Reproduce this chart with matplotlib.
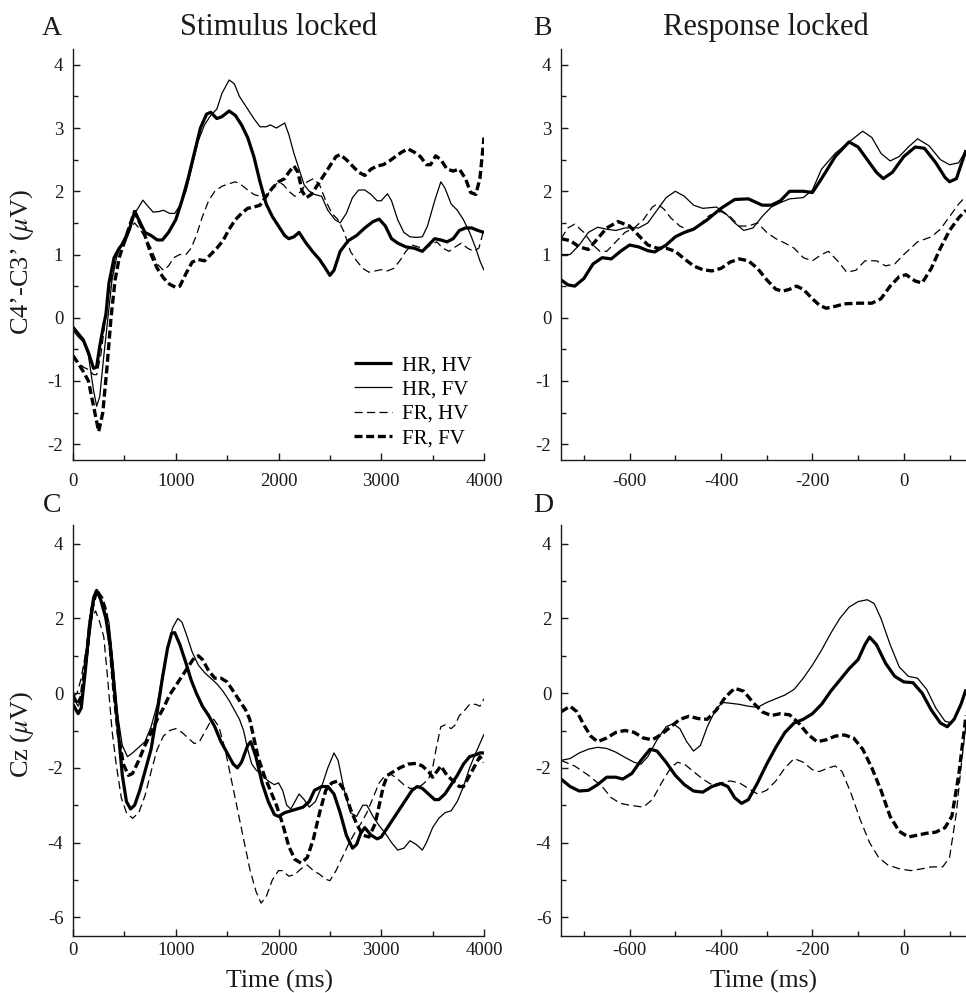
import matplotlib
matplotlib.use("Agg")
import matplotlib.pyplot as plt
from matplotlib.ticker import MultipleLocator

plt.rcParams['font.family'] = ['Liberation Serif', 'DejaVu Serif']
plt.rcParams['mathtext.fontset'] = 'stix'
plt.rcParams['axes.unicode_minus'] = False

# ---- Panel A: stimulus locked, C4'-C3' ----
a_hrhv_t = [0, 50, 100, 150, 200, 230, 260, 300, 320, 350, 400, 450, 500, 550, 600, 640, 700, 760, 820, 870,
            930, 1000, 1060, 1120, 1180, 1240, 1300, 1340, 1400, 1450, 1520, 1580, 1640, 1700, 1760, 1820, 1880,
            1940, 2000, 2060, 2100, 2150, 2200, 2260, 2330, 2400, 2450, 2500, 2540, 2600, 2680, 2760, 2840, 2920,
            2980, 3040, 3100, 3160, 3240, 3320, 3400, 3460, 3520, 3580, 3640, 3700, 3760, 3820, 3880, 3940, 4000]
a_hrhv_v = [-0.15, -0.25, -0.35, -0.55, -0.8, -0.78, -0.45, -0.1, 0.05, 0.55, 0.95, 1.1, 1.2, 1.4, 1.68, 1.55,
            1.35, 1.3, 1.23, 1.23, 1.35, 1.55, 1.85, 2.2, 2.6, 3.0, 3.22, 3.25, 3.15, 3.18, 3.27, 3.2, 3.05, 2.85,
            2.55, 2.15, 1.8, 1.6, 1.45, 1.3, 1.25, 1.28, 1.35, 1.2, 1.05, 0.92, 0.8, 0.67, 0.75, 1.05, 1.22, 1.3,
            1.42, 1.52, 1.56, 1.45, 1.25, 1.18, 1.12, 1.1, 1.05, 1.15, 1.25, 1.23, 1.2, 1.25, 1.38, 1.42, 1.42,
            1.38, 1.35]

a_hrfv_t = [0, 50, 100, 150, 200, 230, 260, 300, 340, 380, 430, 480, 540, 600, 640, 680, 720, 780, 840, 880,
            940, 990, 1050, 1100, 1160, 1220, 1280, 1340, 1400, 1450, 1520, 1570, 1620, 1700, 1760, 1820, 1880,
            1920, 1980, 2060, 2100, 2150, 2200, 2250, 2300, 2350, 2420, 2480, 2550, 2600, 2660, 2720, 2780, 2840,
            2900, 2960, 3000, 3060, 3100, 3160, 3220, 3280, 3340, 3400, 3450, 3520, 3580, 3620, 3680, 3740, 3800,
            3860, 3920, 3960, 4000]
a_hrfv_v = [-0.2, -0.3, -0.38, -0.6, -1.15, -1.4, -1.25, -0.6, 0.0, 0.6, 1.0, 1.2, 1.4, 1.65, 1.75, 1.86, 1.78,
            1.67, 1.68, 1.7, 1.65, 1.65, 1.8, 2.0, 2.4, 2.8, 3.05, 3.2, 3.3, 3.55, 3.76, 3.7, 3.5, 3.3, 3.15, 3.02,
            3.02, 3.05, 3.0, 3.08, 2.9, 2.6, 2.35, 2.1, 2.0, 1.95, 1.92, 1.7, 1.55, 1.5, 1.65, 1.9, 2.02, 2.02, 1.95,
            1.85, 1.85, 1.96, 1.85, 1.55, 1.35, 1.28, 1.27, 1.28, 1.45, 1.85, 2.15, 2.05, 1.8, 1.7, 1.55, 1.35, 1.1,
            0.9, 0.75]

a_frhv_t = [0, 50, 100, 150, 200, 230, 270, 310, 350, 400, 450, 500, 560, 600, 650, 700, 760, 820, 880, 930,
            980, 1040, 1100, 1150, 1200, 1260, 1320, 1380, 1450, 1520, 1580, 1640, 1700, 1760, 1820, 1880, 1940,
            2000, 2050, 2100, 2160, 2220, 2280, 2340, 2400, 2460, 2520, 2580, 2640, 2700, 2760, 2820, 2880, 2940,
            3000, 3060, 3120, 3180, 3240, 3300, 3360, 3420, 3480, 3540, 3600, 3660, 3720, 3780, 3840, 3900, 3950,
            4000]
a_frhv_v = [-0.6, -0.7, -0.78, -0.82, -0.9, -0.9, -0.6, -0.1, 0.4, 0.85, 1.1, 1.25, 1.42, 1.5, 1.4, 1.28, 1.1,
            0.85, 0.75, 0.82, 0.95, 1.0, 1.0, 1.1, 1.3, 1.6, 1.85, 2.0, 2.08, 2.12, 2.15, 2.1, 2.02, 1.95, 1.92,
            1.92, 2.05, 2.15, 2.1, 2.0, 1.92, 2.0, 2.15, 2.2, 2.1, 1.85, 1.65, 1.55, 1.35, 1.05, 0.9, 0.78, 0.72,
            0.74, 0.76, 0.74, 0.78, 0.9, 1.05, 1.15, 1.12, 1.08, 1.15, 1.2, 1.1, 1.05, 1.12, 1.18, 1.1, 1.05, 1.1,
            1.4]

a_frfv_t = [0, 50, 100, 150, 200, 250, 290, 330, 370, 410, 450, 500, 550, 600, 650, 700, 760, 820, 880, 940,
            1000, 1040, 1100, 1160, 1220, 1280, 1340, 1400, 1460, 1520, 1580, 1640, 1700, 1760, 1820, 1880, 1940,
            2000, 2060, 2100, 2150, 2190, 2230, 2270, 2320, 2380, 2440, 2500, 2560, 2600, 2660, 2720, 2780, 2840,
            2900, 2960, 3020, 3080, 3140, 3200, 3260, 3320, 3380, 3440, 3480, 3530, 3580, 3640, 3700, 3760, 3820,
            3870, 3920, 3960, 4000]
a_frfv_v = [-0.6, -0.72, -0.85, -1.0, -1.4, -1.8, -1.5, -0.8, 0.0, 0.6, 0.95, 1.2, 1.45, 1.68, 1.5, 1.3, 1.0,
            0.78, 0.63, 0.53, 0.48, 0.5, 0.7, 0.88, 0.92, 0.9, 1.0, 1.1, 1.22, 1.4, 1.55, 1.65, 1.73, 1.75, 1.78,
            1.92, 2.05, 2.15, 2.2, 2.3, 2.4, 2.3, 2.0, 1.9, 1.95, 2.1, 2.25, 2.4, 2.55, 2.58, 2.5, 2.4, 2.3, 2.25,
            2.35, 2.4, 2.42, 2.48, 2.55, 2.62, 2.67, 2.62, 2.55, 2.42, 2.42, 2.56, 2.5, 2.35, 2.32, 2.35, 2.2, 1.98,
            1.95, 2.2, 2.85]

# ---- Panel B: response locked, C4'-C3' ----
b_hrhv_t = [-750, -735, -720, -700, -680, -660, -640, -620, -600, -580, -560, -545, -520, -500, -480, -460, -430,
            -400, -370, -340, -310, -290, -270, -250, -220, -200, -180, -150, -120, -100, -80, -60, -45, -25, 0,
            25, 45, 70, 90, 100, 115, 136]
b_hrhv_v = [0.6, 0.52, 0.5, 0.62, 0.85, 0.95, 0.93, 1.05, 1.15, 1.12, 1.06, 1.04, 1.15, 1.28, 1.35, 1.4, 1.55,
            1.73, 1.87, 1.88, 1.78, 1.78, 1.85, 2.0, 2.0, 1.98, 2.2, 2.55, 2.78, 2.7, 2.5, 2.3, 2.2, 2.3, 2.55, 2.7,
            2.68, 2.45, 2.22, 2.15, 2.2, 2.65]

b_hrfv_t = [-750, -730, -710, -690, -670, -650, -630, -610, -580, -560, -540, -520, -500, -480, -460, -440, -410,
            -390, -370, -350, -330, -310, -290, -270, -250, -220, -200, -180, -150, -120, -90, -70, -50, -30, -10,
            10, 30, 55, 80, 100, 120, 136]
b_hrfv_v = [1.0, 1.0, 1.15, 1.35, 1.43, 1.4, 1.38, 1.42, 1.42, 1.5, 1.7, 1.9, 2.0, 1.92, 1.78, 1.73, 1.75, 1.65,
            1.5, 1.38, 1.42, 1.6, 1.75, 1.82, 1.88, 1.9, 2.02, 2.35, 2.6, 2.78, 2.95, 2.85, 2.6, 2.48, 2.55, 2.7,
            2.83, 2.72, 2.5, 2.42, 2.45, 2.65]

b_frhv_t = [-750, -735, -720, -700, -680, -665, -650, -630, -610, -590, -570, -550, -540, -525, -510, -490, -470,
            -450, -425, -400, -380, -360, -340, -320, -300, -280, -260, -240, -220, -200, -180, -165, -145, -125,
            -105, -85, -60, -40, -20, 0, 30, 60, 80, 100, 120, 136]
b_frhv_v = [1.25, 1.42, 1.48, 1.35, 1.15, 1.05, 1.05, 1.2, 1.35, 1.42, 1.55, 1.75, 1.8, 1.72, 1.58, 1.45, 1.38,
            1.45, 1.62, 1.68, 1.6, 1.45, 1.45, 1.5, 1.35, 1.25, 1.18, 1.1, 0.95, 0.9, 1.0, 1.05, 0.9, 0.72, 0.75,
            0.9, 0.9, 0.82, 0.85, 1.0, 1.2, 1.28, 1.4, 1.6, 1.8, 1.92]

b_frfv_t = [-750, -730, -710, -690, -670, -650, -625, -600, -580, -560, -540, -520, -500, -480, -460, -440, -420,
            -400, -380, -360, -340, -320, -300, -280, -265, -250, -235, -220, -200, -185, -170, -150, -130, -100,
            -70, -50, -30, -10, 5, 25, 40, 60, 80, 100, 120, 136]
b_frfv_v = [1.25, 1.22, 1.12, 1.08, 1.25, 1.42, 1.52, 1.45, 1.3, 1.15, 1.1, 1.1, 1.05, 0.93, 0.82, 0.76, 0.74,
            0.78, 0.88, 0.93, 0.9, 0.78, 0.6, 0.45, 0.42, 0.45, 0.5, 0.45, 0.3, 0.2, 0.15, 0.18, 0.22, 0.23, 0.23,
            0.3, 0.5, 0.65, 0.68, 0.58, 0.55, 0.78, 1.1, 1.38, 1.58, 1.7]

# ---- Panel C: stimulus locked, Cz ----
c_hrhv_t = [0, 50, 80, 120, 160, 200, 230, 270, 320, 360, 400, 440, 480, 520, 560, 600, 650, 700, 760, 820, 870,
            920, 960, 990, 1040, 1100, 1150, 1200, 1260, 1320, 1380, 1440, 1500, 1560, 1600, 1640, 1700, 1730,
            1780, 1840, 1900, 1960, 2000, 2060, 2120, 2180, 2240, 2300, 2350, 2420, 2480, 2540, 2600, 2660, 2720,
            2760, 2800, 2840, 2900, 2960, 3000, 3060, 3120, 3180, 3240, 3300, 3350, 3400, 3460, 3520, 3560, 3620,
            3680, 3740, 3800, 3860, 3920, 3960, 4000]
c_hrhv_v = [-0.3, -0.55, -0.4, 0.6, 1.8, 2.55, 2.75, 2.5, 2.0, 1.3, 0.2, -1.0, -2.2, -2.9, -3.1, -3.0, -2.6,
            -2.1, -1.5, -0.5, 0.4, 1.2, 1.6, 1.62, 1.3, 0.8, 0.35, 0.0, -0.35, -0.6, -0.9, -1.3, -1.6, -1.9, -2.0,
            -1.85, -1.4, -1.3, -1.7, -2.4, -2.9, -3.25, -3.3, -3.2, -3.15, -3.1, -3.05, -2.9, -2.6, -2.5, -2.5,
            -2.7, -3.2, -3.8, -4.15, -4.05, -3.75, -3.6, -3.8, -3.9, -3.85, -3.6, -3.35, -3.1, -2.85, -2.6, -2.5,
            -2.55, -2.7, -2.85, -2.85, -2.7, -2.45, -2.2, -1.9, -1.7, -1.65, -1.6, -1.6]

c_hrfv_t = [0, 50, 80, 120, 170, 220, 260, 310, 350, 390, 430, 480, 530, 580, 640, 700, 760, 820, 870, 920, 970,
            1020, 1060, 1100, 1160, 1220, 1280, 1340, 1400, 1460, 1520, 1580, 1620, 1660, 1700, 1740, 1780, 1840,
            1900, 1960, 2000, 2040, 2080, 2120, 2160, 2200, 2250, 2300, 2360, 2420, 2480, 2540, 2580, 2640, 2700,
            2760, 2820, 2860, 2920, 2980, 3040, 3100, 3160, 3220, 3280, 3340, 3400, 3440, 3500, 3560, 3620, 3680,
            3740, 3800, 3860, 3920, 3960, 4000]
c_hrfv_v = [-0.1, -0.35, -0.2, 0.5, 1.7, 2.75, 2.6, 2.2, 1.9, 0.8, -0.5, -1.4, -1.7, -1.6, -1.45, -1.3, -0.9,
            -0.3, 0.5, 1.2, 1.75, 2.0, 1.9, 1.6, 1.1, 0.75, 0.55, 0.4, 0.25, 0.05, -0.2, -0.5, -0.7, -1.0, -1.5,
            -1.9, -2.05, -2.2, -2.35, -2.45, -2.4, -2.6, -3.0, -3.1, -2.9, -2.7, -2.85, -3.05, -2.9, -2.5, -2.0,
            -1.6, -1.8, -2.6, -3.2, -3.3, -3.0, -3.0, -3.3, -3.55, -3.75, -4.0, -4.2, -4.15, -3.95, -4.05, -4.2,
            -4.0, -3.6, -3.35, -3.2, -3.15, -2.9, -2.5, -2.0, -1.6, -1.35, -1.1]

c_frhv_t = [0, 40, 80, 130, 180, 220, 260, 300, 340, 380, 420, 470, 520, 580, 640, 700, 760, 820, 880, 940, 1000,
            1060, 1120, 1180, 1230, 1280, 1330, 1370, 1420, 1480, 1540, 1600, 1660, 1720, 1780, 1830, 1880, 1940,
            2000, 2040, 2100, 2160, 2220, 2280, 2340, 2400, 2460, 2500, 2560, 2620, 2680, 2740, 2800, 2860, 2920,
            2980, 3040, 3100, 3160, 3220, 3280, 3340, 3400, 3460, 3500, 3540, 3580, 3620, 3680, 3720, 3760, 3800,
            3860, 3920, 3960, 4000]
c_frhv_v = [-0.1, 0.0, 0.4, 1.2, 2.0, 2.2, 1.9, 1.5, 0.3, -1.0, -1.9, -2.8, -3.2, -3.35, -3.2, -2.75, -2.1, -1.5,
            -1.15, -1.0, -0.95, -1.05, -1.2, -1.35, -1.3, -1.05, -0.8, -0.7, -0.9, -1.5, -2.3, -3.1, -3.9, -4.7,
            -5.3, -5.62, -5.45, -5.0, -4.75, -4.75, -4.9, -4.85, -4.7, -4.6, -4.75, -4.85, -4.98, -5.02, -4.75,
            -4.4, -4.05, -3.75, -3.5, -3.2, -2.8, -2.4, -2.2, -2.18, -2.3, -2.45, -2.55, -2.55, -2.45, -2.3, -2.0,
            -1.4, -0.9, -0.85, -0.95, -0.85, -0.6, -0.5, -0.3, -0.3, -0.35, -0.15]

c_frfv_t = [0, 40, 80, 130, 180, 230, 280, 320, 360, 400, 440, 490, 540, 580, 640, 700, 760, 820, 880, 940, 1000,
            1060, 1120, 1180, 1220, 1260, 1320, 1380, 1440, 1500, 1560, 1620, 1680, 1720, 1760, 1800, 1860, 1920,
            1980, 2040, 2100, 2160, 2220, 2280, 2340, 2400, 2460, 2520, 2580, 2640, 2700, 2760, 2820, 2880, 2940,
            2980, 3020, 3060, 3120, 3180, 3260, 3340, 3400, 3460, 3500, 3540, 3580, 3640, 3700, 3760, 3800, 3860,
            3920, 3960, 4000]
c_frfv_v = [-0.05, -0.3, -0.1, 1.0, 2.2, 2.75, 2.55, 2.2, 1.3, 0.0, -1.1, -1.9, -2.2, -2.15, -1.8, -1.4, -1.05,
            -0.7, -0.4, -0.05, 0.2, 0.45, 0.7, 0.95, 1.0, 0.9, 0.6, 0.4, 0.4, 0.3, 0.05, -0.2, -0.45, -0.7, -1.2,
            -1.7, -2.2, -2.6, -3.0, -3.5, -4.1, -4.45, -4.55, -4.4, -3.9, -3.2, -2.6, -2.4, -2.35, -2.6, -3.1,
            -3.5, -3.8, -3.85, -3.5, -3.0, -2.5, -2.2, -2.1, -2.0, -1.9, -1.88, -1.95, -2.1, -2.25, -2.1, -1.95,
            -2.2, -2.35, -2.5, -2.5, -2.2, -1.9, -1.7, -1.85]

# ---- Panel D: response locked, Cz ----
d_hrhv_t = [-750, -730, -710, -690, -670, -650, -630, -615, -595, -575, -555, -540, -520, -500, -480, -460, -440,
            -420, -400, -385, -370, -355, -340, -320, -300, -280, -260, -240, -220, -200, -180, -160, -140, -120,
            -100, -85, -75, -60, -40, -20, 0, 20, 40, 60, 80, 95, 110, 125, 136]
d_hrhv_v = [-2.3, -2.5, -2.62, -2.6, -2.45, -2.25, -2.25, -2.3, -2.15, -1.8, -1.5, -1.55, -1.85, -2.2, -2.45,
            -2.62, -2.65, -2.5, -2.42, -2.5, -2.8, -2.95, -2.85, -2.4, -1.9, -1.45, -1.05, -0.8, -0.7, -0.55, -0.3,
            0.05, 0.35, 0.65, 0.9, 1.3, 1.5, 1.3, 0.8, 0.45, 0.3, 0.28, 0.0, -0.45, -0.8, -0.9, -0.7, -0.3, 0.1]

d_hrfv_t = [-750, -730, -710, -690, -670, -650, -630, -610, -590, -575, -560, -540, -520, -505, -490, -475, -460,
            -445, -430, -410, -395, -380, -360, -340, -320, -300, -280, -260, -240, -220, -200, -180, -160, -140,
            -120, -100, -80, -65, -50, -30, -10, 10, 30, 50, 70, 90, 105, 120, 136]
d_hrfv_v = [-1.8, -1.75, -1.6, -1.5, -1.45, -1.48, -1.58, -1.72, -1.85, -1.9, -1.7, -1.25, -0.9, -0.82, -0.95,
            -1.3, -1.55, -1.4, -0.9, -0.4, -0.25, -0.27, -0.3, -0.35, -0.38, -0.25, -0.15, -0.05, 0.1, 0.4, 0.75,
            1.15, 1.6, 2.0, 2.3, 2.45, 2.5, 2.4, 2.0, 1.3, 0.7, 0.45, 0.4, 0.1, -0.4, -0.75, -0.8, -0.45, 0.05]

d_frhv_t = [-750, -720, -690, -660, -640, -620, -600, -570, -550, -530, -510, -495, -480, -460, -440, -420, -400,
            -380, -360, -340, -320, -300, -280, -260, -240, -220, -200, -185, -165, -150, -135, -115, -95, -75, -55,
            -35, -10, 15, 40, 60, 85, 100, 115, 125, 136]
d_frhv_v = [-1.8, -1.95, -2.2, -2.5, -2.8, -2.95, -3.0, -3.05, -2.85, -2.4, -2.0, -1.85, -1.9, -2.1, -2.3, -2.45,
            -2.4, -2.35, -2.4, -2.55, -2.7, -2.6, -2.35, -2.0, -1.75, -1.85, -2.05, -2.1, -2.0, -1.95, -2.1, -2.7,
            -3.4, -4.0, -4.4, -4.6, -4.7, -4.75, -4.7, -4.65, -4.65, -4.4, -3.2, -2.0, -0.8]

d_frfv_t = [-750, -730, -715, -700, -685, -670, -650, -630, -610, -590, -570, -550, -530, -510, -490, -470, -450,
            -430, -410, -390, -370, -350, -330, -310, -290, -270, -250, -230, -210, -190, -170, -150, -130, -110,
            -90, -70, -50, -30, -10, 10, 30, 50, 70, 90, 105, 120, 136]
d_frfv_v = [-0.5, -0.35, -0.5, -0.85, -1.15, -1.3, -1.2, -1.05, -1.0, -1.05, -1.2, -1.25, -1.1, -0.9, -0.7,
            -0.62, -0.68, -0.7, -0.45, -0.1, 0.13, 0.05, -0.25, -0.5, -0.6, -0.55, -0.58, -0.8, -1.1, -1.3, -1.25,
            -1.15, -1.12, -1.2, -1.5, -2.0, -2.6, -3.3, -3.7, -3.85, -3.8, -3.75, -3.72, -3.6, -3.3, -2.2, -0.6]

labels = ['HR, HV', 'HR, FV', 'FR, HV', 'FR, FV']
styles = [dict(lw=2.3, ls='-'),
          dict(lw=0.9, ls='-'),
          dict(lw=0.9, ls=(0, (6.5, 3.5))),
          dict(lw=2.4, ls=(0, (2.4, 1.1)))]

panels = {
    'A': [(a_hrhv_t, a_hrhv_v), (a_hrfv_t, a_hrfv_v), (a_frhv_t, a_frhv_v), (a_frfv_t, a_frfv_v)],
    'B': [(b_hrhv_t, b_hrhv_v), (b_hrfv_t, b_hrfv_v), (b_frhv_t, b_frhv_v), (b_frfv_t, b_frfv_v)],
    'C': [(c_hrhv_t, c_hrhv_v), (c_hrfv_t, c_hrfv_v), (c_frhv_t, c_frhv_v), (c_frfv_t, c_frfv_v)],
    'D': [(d_hrhv_t, d_hrhv_v), (d_hrfv_t, d_hrfv_v), (d_frhv_t, d_frhv_v), (d_frfv_t, d_frfv_v)],
}

W, H = 966, 993
fig = plt.figure(figsize=(W / 100, H / 100), dpi=100)


def px_axes(left, top, right, bottom):
    return fig.add_axes([left / W, 1 - bottom / H, (right - left) / W, (bottom - top) / H])


axes = {
    'A': px_axes(73, 49, 484, 460),
    'B': px_axes(561, 49, 966, 460),
    'C': px_axes(73, 525, 484, 936),
    'D': px_axes(561, 525, 966, 936),
}

ink = '#1a1a1a'
for key, ax in axes.items():
    for (t, v), lab, st in zip(panels[key], labels, styles):
        ax.plot(t, v, color='black', label=lab, solid_capstyle='butt', dash_capstyle='butt', **st)
    for side in ['top', 'right']:
        ax.spines[side].set_visible(False)
    for side in ['left', 'bottom']:
        ax.spines[side].set_color(ink)
        ax.spines[side].set_linewidth(1.0)
    if key in 'AC':
        ax.set_xlim(0, 4000)
        ax.xaxis.set_major_locator(MultipleLocator(1000))
        ax.xaxis.set_minor_locator(MultipleLocator(500))
    else:
        ax.set_xlim(-750, 136)
        ax.set_xticks([-600, -400, -200, 0])
        ax.xaxis.set_minor_locator(MultipleLocator(100))
    if key in 'AB':
        ax.set_ylim(-2.25, 4.25)
        ax.yaxis.set_major_locator(MultipleLocator(1))
        ax.yaxis.set_minor_locator(MultipleLocator(0.5))
        xpad = 9
    else:
        ax.set_ylim(-6.5, 4.5)
        ax.yaxis.set_major_locator(MultipleLocator(2))
        ax.yaxis.set_minor_locator(MultipleLocator(1))
        xpad = 4
    ax.tick_params(which='both', direction='in', colors=ink, labelsize=13.5, width=1.0)
    ax.tick_params(which='major', length=5)
    ax.tick_params(which='minor', length=3.5)
    ax.tick_params(axis='y', pad=7)
    ax.tick_params(axis='x', pad=xpad)
    ax.set_yticklabels([('%g' % y) for y in ax.get_yticks()])
    ax.set_xticklabels([('%g' % x) for x in ax.get_xticks()])

# legend in panel A
axes['A'].legend(loc='upper left', bbox_to_anchor=(354 / W, 1 - 356 / H), bbox_transform=fig.transFigure,
                 frameon=False, fontsize=15, handlelength=1.8, handletextpad=0.5, labelspacing=0.22,
                 borderpad=0, borderaxespad=0)

# panel letters and titles
fig.text(42 / W, 1 - 35 / H, 'A', fontsize=20, va='baseline', ha='left', color=ink)
fig.text(533 / W, 1 - 35 / H, 'B', fontsize=20, va='baseline', ha='left', color=ink)
fig.text(43 / W, 1 - 512 / H, 'C', fontsize=20, va='baseline', ha='left', color=ink)
fig.text(533 / W, 1 - 512 / H, 'D', fontsize=20, va='baseline', ha='left', color=ink)
fig.text(279 / W, 1 - 35 / H, 'Stimulus locked', fontsize=22, va='baseline', ha='center', color=ink)
fig.text(766 / W, 1 - 35 / H, 'Response locked', fontsize=22, va='baseline', ha='center', color=ink)

# axis labels
fig.text(22 / W, 1 - 262 / H, 'C4\u2019-C3\u2019 ($\\mu$V)', fontsize=19, rotation=90, va='center', ha='center',
         color=ink)
fig.text(22 / W, 1 - 734 / H, 'Cz ($\\mu$V)', fontsize=19, rotation=90, va='center', ha='center', color=ink)
fig.text(279 / W, 1 - 988 / H, 'Time (ms)', fontsize=18.5, va='baseline', ha='center', color=ink)
fig.text(763 / W, 1 - 988 / H, 'Time (ms)', fontsize=18.5, va='baseline', ha='center', color=ink)

fig.savefig('out.png', dpi=100)
